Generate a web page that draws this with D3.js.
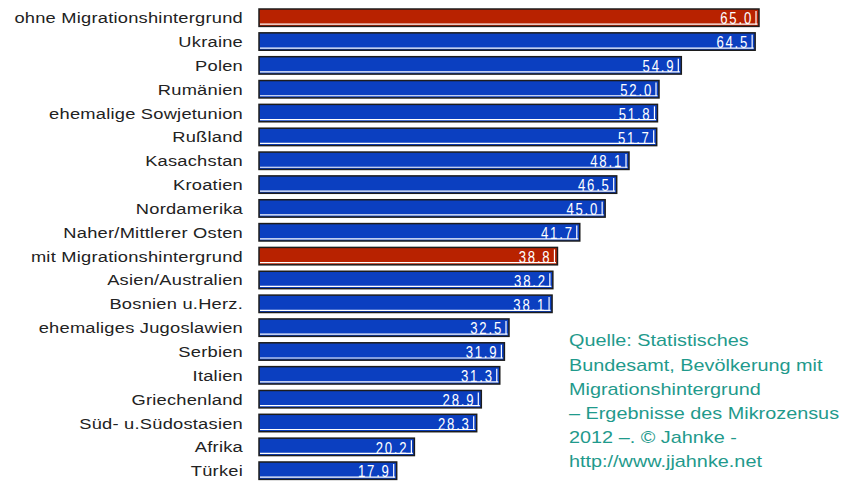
<!DOCTYPE html>
<html><head><meta charset="utf-8">
<script src="https://cdn.jsdelivr.net/npm/d3@7"></script>
<style>body{margin:0;background:#fff}svg{display:block}</style>
</head><body>
<script>
const categories = ["ohne Migrationshintergrund","Ukraine","Polen","Rumänien","ehemalige Sowjetunion","Rußland","Kasachstan","Kroatien","Nordamerika","Naher/Mittlerer Osten","mit Migrationshintergrund","Asien/Australien","Bosnien u.Herz.","ehemaliges Jugoslawien","Serbien","Italien","Griechenland","Süd- u.Südostasien","Afrika","Türkei"];
const values = [65.0,64.5,54.9,52.0,51.8,51.7,48.1,46.5,45.0,41.7,38.8,38.2,38.1,32.5,31.9,31.3,28.9,28.3,20.2,17.9];
const highlighted = ["ohne Migrationshintergrund","mit Migrationshintergrund"];
const sourceLines = ["Quelle: Statistisches","Bundesamt, Bevölkerung mit","Migrationshintergrund","– Ergebnisse des Mikrozensus","2012 –. © Jahnke -","http://www.jjahnke.net"];

const W=849,H=485;
const svg=d3.select("body").append("svg").attr("width",W).attr("height",H);
const x=d3.scaleLinear().domain([0,65]).range([259,759]);
const y=d3.scaleBand().domain(categories).range([9,479.4]).paddingInner(0.27).paddingOuter(0);
const bw=y.bandwidth();

const g=svg.append("g").selectAll("g").data(categories).join("g");
g.append("rect")
  .attr("x",x(0)).attr("y",d=>y(d))
  .attr("width",(d,i)=>x(values[i])-x(0)).attr("height",bw)
  .attr("fill",d=>highlighted.includes(d)?"#b82200":"#0b3fc0")
  .attr("stroke","#1c1c1c").attr("stroke-width",1.5);
g.append("line")
  .attr("x1",x(0)+1).attr("x2",(d,i)=>x(values[i])-1.5)
  .attr("y1",d=>y(d)+bw-2.2).attr("y2",d=>y(d)+bw-2.2)
  .attr("stroke","#fff").attr("stroke-width",1.2);
g.append("line")
  .attr("x1",(d,i)=>x(values[i])-3).attr("x2",(d,i)=>x(values[i])-3)
  .attr("y1",d=>y(d)+2).attr("y2",d=>y(d)+bw-2)
  .attr("stroke","#fff").attr("stroke-width",1.2);
g.append("text")
  .attr("transform",(d,i)=>`translate(${x(values[i])-6},${y(d)+bw-2}) scale(0.82,1)`)
  .attr("text-anchor","end").attr("fill","#fff")
  .attr("font-family","Liberation Sans, Arial, sans-serif")
  .attr("font-size",16).attr("letter-spacing",2.2)
  .text((d,i)=>values[i].toFixed(1));
g.append("text")
  .attr("transform",d=>`translate(243,${y(d)+bw/2+5.5}) scale(1.18,1)`)
  .attr("text-anchor","end").attr("fill","#222")
  .attr("font-family","Liberation Sans, Arial, sans-serif").attr("font-size",15.5)
  .attr("letter-spacing",0.2)
  .text(d=>d);

svg.append("g").attr("transform","translate(569,0) scale(1.24,1)")
  .append("text").attr("font-family","Liberation Sans, Arial, sans-serif")
  .attr("font-size",16).attr("fill","#1f9a8c")
  .selectAll("tspan").data(sourceLines).join("tspan")
  .attr("x",0).attr("y",(d,i)=>346.5+i*24.2).text(d=>d);
</script>
</body></html>
